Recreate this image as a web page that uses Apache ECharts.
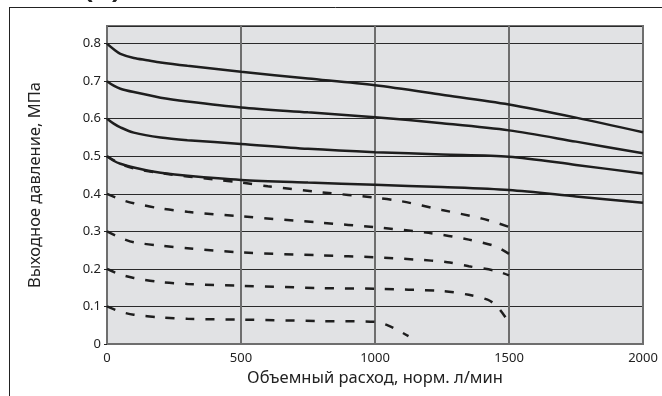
<!DOCTYPE html>
<html><head><meta charset="utf-8">
<script src="https://cdn.jsdelivr.net/npm/echarts@6/dist/echarts.min.js"></script>
<style>html,body{margin:0;padding:0;background:#fff}#c{width:662px;height:396px}</style>
</head><body><div id="c"></div>
<script>
var xTicks = [0, 500, 1000, 1500, 2000];
var yTicks = [0, 0.1, 0.2, 0.3, 0.4, 0.5, 0.6, 0.7, 0.8];
var xName = 'Объемный расход, норм. л/мин';
var yName = 'Выходное давление, МПа';

// solid curves [flow, pressure]
var solid08 = [[0,0.80],[25,0.785],[50,0.773],[100,0.762],[150,0.756],[200,0.75],[300,0.741],[500,0.725],[750,0.707],[1000,0.689],[1250,0.664],[1500,0.638],[1750,0.603],[2000,0.564]];
var solid07 = [[0,0.70],[25,0.688],[50,0.68],[100,0.671],[200,0.656],[300,0.646],[500,0.630],[750,0.617],[1000,0.604],[1250,0.588],[1500,0.569],[1750,0.539],[2000,0.508]];
var solid06 = [[0,0.60],[25,0.587],[50,0.577],[100,0.563],[200,0.55],[300,0.543],[500,0.533],[750,0.520],[1000,0.511],[1250,0.505],[1500,0.499],[1750,0.477],[2000,0.454]];
var solid05 = [[0,0.50],[25,0.488],[50,0.48],[100,0.47],[150,0.462],[200,0.456],[300,0.448],[500,0.437],[750,0.430],[1000,0.424],[1250,0.418],[1500,0.410],[1750,0.393],[2000,0.376]];
// dashed curves
var dash05 = [[0,0.50],[50,0.48],[100,0.468],[200,0.455],[400,0.438],[500,0.430],[600,0.420],[800,0.404],[1000,0.390],[1100,0.380],[1250,0.357],[1400,0.334],[1500,0.312]];
var dash04 = [[0,0.40],[50,0.385],[100,0.375],[200,0.361],[300,0.352],[500,0.340],[800,0.323],[1000,0.311],[1200,0.296],[1350,0.278],[1450,0.260],[1500,0.240]];
var dash03 = [[0,0.30],[50,0.283],[100,0.271],[200,0.262],[300,0.255],[500,0.244],[800,0.236],[1000,0.231],[1150,0.225],[1270,0.218],[1350,0.207],[1450,0.195],[1500,0.183]];
var dash02 = [[0,0.20],[50,0.185],[100,0.176],[200,0.165],[300,0.160],[500,0.155],[800,0.149],[1000,0.147],[1250,0.141],[1350,0.131],[1420,0.118],[1450,0.104],[1480,0.078],[1495,0.062]];
var dash01 = [[0,0.10],[50,0.086],[100,0.078],[200,0.071],[300,0.067],[500,0.065],[800,0.061],[1000,0.059],[1050,0.049],[1100,0.031],[1125,0.021]];

var solids = [solid08, solid07, solid06, solid05];
var dashes = [dash05, dash04, dash03, dash02, dash01];

var series = [];
solids.forEach(function(d){
  series.push({type:'line', data:d, smooth:0.3, showSymbol:false, symbol:'none',
    lineStyle:{color:'#1e1e1e', width:2.5}, z:5});
});
dashes.forEach(function(d){
  series.push({type:'line', data:d, smooth:0.3, showSymbol:false, symbol:'none',
    lineStyle:{color:'#1e1e1e', width:2.5, type:[9,11]}, z:4});
});

function tickFmt(list){
  return function(v){
    for (var i=0;i<list.length;i++){ if (Math.abs(v-list[i])<1e-6) return String(list[i]); }
    return '';
  };
}

var chart = echarts.init(document.getElementById('c'), null, {renderer:'canvas'});
chart.setOption({
  animation:false,
  backgroundColor:'#ffffff',
  grid:{left:107, right:19, top:26, bottom:52, show:true, backgroundColor:'#e1e2e4', borderColor:'#6e6e6e', borderWidth:2},
  graphic:[
    {type:'line', shape:{x1:9, y1:7.5, x2:662, y2:7.5}, style:{stroke:'#222', lineWidth:1}},
    {type:'line', shape:{x1:9.5, y1:7, x2:9.5, y2:396}, style:{stroke:'#222', lineWidth:1}},
    {type:'text', x:84, y:4, style:{text:'(b)', font:'bold 28px "Open Sans"', fill:'#222', verticalAlign:'bottom'}}
  ],
  xAxis:{type:'value', min:xTicks[0], max:xTicks[xTicks.length-1], interval:500,
    name:xName, nameLocation:'middle', nameGap:26,
    nameTextStyle:{fontFamily:'Noto Sans', fontSize:16.5, color:'#222'},
    axisLine:{show:true, lineStyle:{color:'#6e6e6e', width:2}},
    axisTick:{show:false},
    axisLabel:{fontFamily:'Noto Sans', fontSize:13, color:'#222', margin:8, formatter:tickFmt(xTicks)},
    splitLine:{show:true, lineStyle:{color:'#6e6e6e', width:2}}
  },
  yAxis:{type:'value', min:yTicks[0], max:0.847, interval:0.1,
    name:yName, nameLocation:'middle', nameGap:63,
    nameTextStyle:{fontFamily:'Noto Sans', fontSize:16.5, color:'#222'},
    axisLine:{show:true, lineStyle:{color:'#6e6e6e', width:2}},
    axisTick:{show:true, length:3, lineStyle:{color:'#222', width:1}},
    axisLabel:{fontFamily:'Noto Sans', fontSize:13, color:'#222', margin:6, showMaxLabel:false,
      formatter:tickFmt(yTicks)},
    splitLine:{show:true, lineStyle:{color:'#2a2a2a', width:1}}
  },
  series:series
});
</script></body></html>
